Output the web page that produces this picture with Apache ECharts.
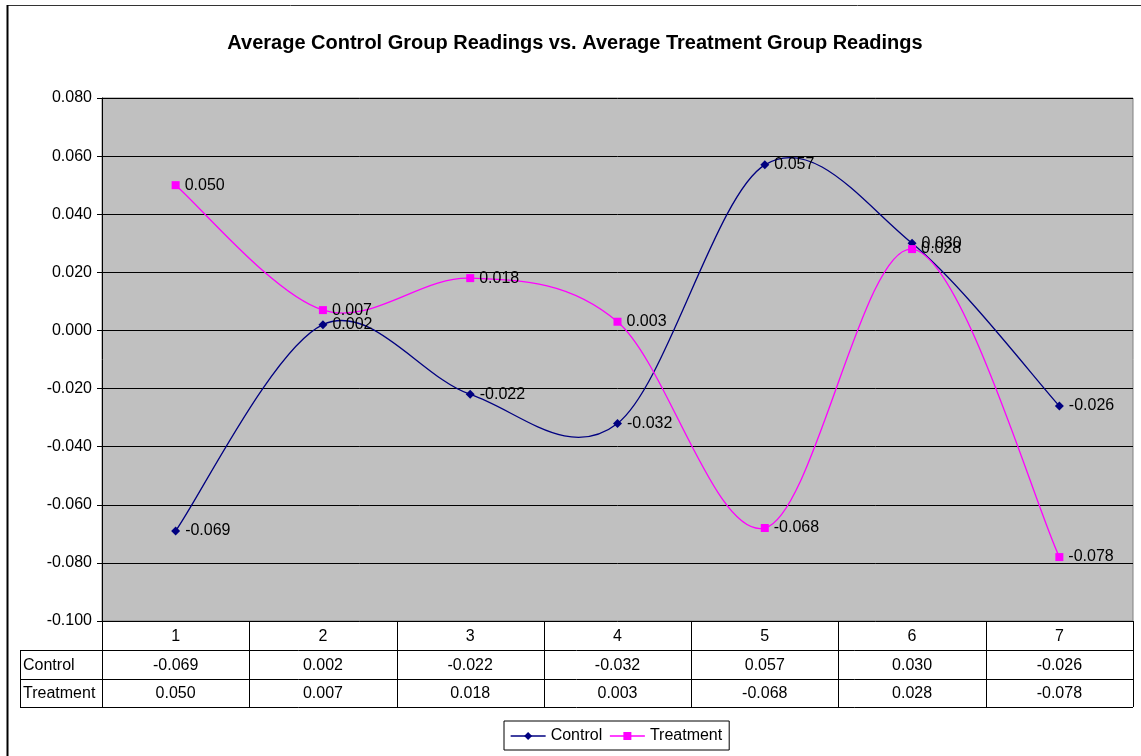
<!DOCTYPE html>
<html><head><meta charset="utf-8">
<script src="https://cdn.jsdelivr.net/npm/echarts@6/dist/echarts.min.js"></script>
<style>html,body{margin:0;padding:0;background:#fff}#c{width:1141px;height:756px}</style>
</head><body><div id="c"></div>
<script>
var categories = ['1','2','3','4','5','6','7'];
var control = [-0.069, 0.002, -0.022, -0.032, 0.057, 0.030, -0.026];
var treatment = [0.050, 0.007, 0.018, 0.003, -0.068, 0.028, -0.078];
var seriesNames = ['Control', 'Treatment'];
var seriesColors = ['#000080', '#ff00ff'];
var yMin = -0.1, yMax = 0.08, yStep = 0.02;

var G = {left: 102, top: 98, right: 1133, bottom: 621};
var chart = echarts.init(document.getElementById('c'));
var FONT = 'Arial, "Liberation Sans", sans-serif';
var FS = 16;
function fmt(v){ return v.toFixed(3); }

// Excel-like smooth curve (Catmull-Rom Bezier) through the data points, via the axis scales
function curveSeries(name, values, color) {
  return {
    name: name + ' curve', type: 'custom', coordinateSystem: 'cartesian2d', silent: true, z: 2,
    data: values.map(function(v, i){ return [i, v]; }),
    renderItem: function(params, api) {
      if (params.dataIndex !== 0) return null;
      var p = values.map(function(v, i){ return api.coord([i, v]); });
      var n = p.length, children = [];
      for (var i = 0; i < n - 1; i++) {
        var p0 = p[Math.max(0, i - 1)], p1 = p[i], p2 = p[i + 1], p3 = p[Math.min(n - 1, i + 2)];
        children.push({type: 'bezierCurve', shape: {
          x1: p1[0], y1: p1[1], x2: p2[0], y2: p2[1],
          cpx1: p1[0] + (p2[0] - p0[0]) / 6, cpy1: p1[1] + (p2[1] - p0[1]) / 6,
          cpx2: p2[0] - (p3[0] - p1[0]) / 6, cpy2: p2[1] - (p3[1] - p1[1]) / 6
        }, style: {stroke: color, lineWidth: 1.3, fill: null}});
      }
      return {type: 'group', children: children};
    }
  };
}
function pointSeries(name, values, color, symbol, size) {
  return {name: name, type: 'line', data: values, z: 3,
    symbol: symbol, symbolSize: size,
    itemStyle: {color: color}, lineStyle: {color: color, width: 1.3, opacity: 0},
    label: {show: true, position: 'right', distance: 5, formatter: function(p){return fmt(p.value);},
      fontFamily: FONT, fontSize: FS, color: '#000'}};
}

var option = {
  animation: false,
  backgroundColor: '#fff',
  title: {
    text: 'Average Control Group Readings vs. Average Treatment Group Readings',
    left: 570, top: 28, textAlign: 'center',
    textStyle: {fontFamily: FONT, fontSize: 20, fontWeight: 'bold', color: '#000'}
  },
  grid: {left: G.left, top: G.top, width: G.right - G.left, height: G.bottom - G.top,
    show: true, backgroundColor: '#c0c0c0', borderColor: '#808080', borderWidth: 1},
  legend: {
    data: [
      {name: seriesNames[0], lineStyle: {color: seriesColors[0], width: 1.3, opacity: 1}},
      {name: seriesNames[1], lineStyle: {color: seriesColors[1], width: 1.3, opacity: 1}}
    ],
    left: 504, top: 721, itemWidth: 35, itemHeight: 10, itemGap: 7,
    padding: [7, 7, 6, 6], borderColor: '#000', borderWidth: 1, backgroundColor: '#fff',
    textStyle: {fontFamily: FONT, fontSize: FS, color: '#000'}
  },
  xAxis: {
    type: 'category', data: categories, boundaryGap: true,
    axisLine: {show: false}, axisTick: {show: false}, axisLabel: {show: false}
  },
  yAxis: {
    type: 'value', min: yMin, max: yMax, interval: yStep,
    axisLine: {show: true, lineStyle: {color: '#000', width: 1}},
    axisTick: {show: true, length: 5, lineStyle: {color: '#000'}},
    axisLabel: {margin: 10, fontFamily: FONT, fontSize: FS, color: '#000', formatter: fmt},
    splitLine: {show: true, lineStyle: {color: '#000', width: 1}}
  },
  series: [
    pointSeries(seriesNames[0], control, seriesColors[0], 'diamond', 9),
    pointSeries(seriesNames[1], treatment, seriesColors[1], 'rect', 8),
    curveSeries(seriesNames[0], control, seriesColors[0]),
    curveSeries(seriesNames[1], treatment, seriesColors[1])
  ]
};
chart.setOption(option);

// data table + frame
var rows = [control, treatment];
var rowTop = [G.bottom, 650, 679, 707];
var labelLeft = 20;
var els = [];
function line(x1,y1,x2,y2,c,w){ els.push({type:'line', shape:{x1:x1,y1:y1,x2:x2,y2:y2}, style:{stroke:c||'#000', lineWidth:w||1}, silent:true}); }
line(7, 5.5, 1141, 5.5, '#333');
line(7.5, 5, 7.5, 756, '#000', 2);
var colW = (G.right - G.left) / categories.length;
for (var i = 0; i <= categories.length; i++) {
  var x = Math.round(G.left + i * colW) + 0.5;
  line(x, G.bottom, x, rowTop[3]);
}
line(labelLeft + 0.5, rowTop[1], labelLeft + 0.5, rowTop[3]);
line(labelLeft, rowTop[1] + 0.5, G.right, rowTop[1] + 0.5);
line(labelLeft, rowTop[2] + 0.5, G.right, rowTop[2] + 0.5);
line(labelLeft, rowTop[3] + 0.5, G.right, rowTop[3] + 0.5);
for (var i = 0; i < categories.length; i++) {
  var cx = chart.convertToPixel({xAxisIndex: 0}, categories[i]);
  els.push({type:'text', x: cx, y: (rowTop[0] + rowTop[1]) / 2 + 1, style:{text: categories[i], align:'center', verticalAlign:'middle', font: FS + 'px ' + FONT, fill:'#000'}, silent:true});
  for (var r = 0; r < rows.length; r++) {
    els.push({type:'text', x: cx, y: (rowTop[r+1] + rowTop[r+2]) / 2 + 1, style:{text: fmt(rows[r][i]), align:'center', verticalAlign:'middle', font: FS + 'px ' + FONT, fill:'#000'}, silent:true});
  }
}
for (var r = 0; r < rows.length; r++) {
  els.push({type:'text', x: labelLeft + 3, y: (rowTop[r+1] + rowTop[r+2]) / 2 + 1, style:{text: seriesNames[r], align:'left', verticalAlign:'middle', font: FS + 'px ' + FONT, fill:'#000'}, silent:true});
}
chart.setOption({graphic: {elements: els}});
</script></body></html>
